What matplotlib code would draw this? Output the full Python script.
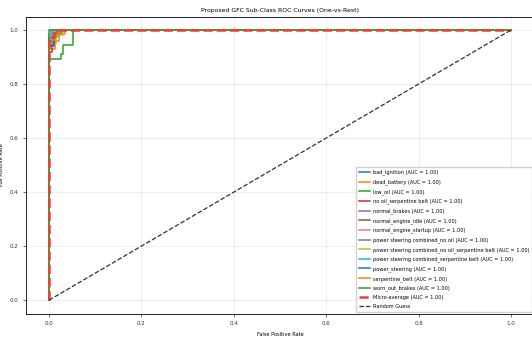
import matplotlib
matplotlib.use("Agg")
import matplotlib.pyplot as plt
import numpy as np

class_names = [
    "bad_ignition",
    "dead_battery",
    "low_oil",
    "no oil_serpentine belt",
    "normal_brakes",
    "normal_engine_idle",
    "normal_engine_startup",
    "power steering combined_no oil",
    "power steering combined_no oil_serpentine belt",
    "power steering combined_serpentine belt",
    "power_steering",
    "serpentine_belt",
    "worn_out_brakes",
]
class_auc = [1.00] * 13

# step-wise ROC points (fpr, tpr) per class
roc_fpr = [
    [0.0, 0.0, 0.008, 0.008, 0.016, 0.016, 1.0],
    [0.0, 0.0, 0.012, 0.012, 0.022, 0.022, 0.035, 0.035, 1.0],
    [0.0, 0.0, 0.026, 0.026, 0.031, 0.031, 0.051, 0.051, 1.0],
    [0.0, 0.0, 0.006, 0.006, 0.014, 0.014, 0.024, 0.024, 1.0],
    [0.0, 0.0, 0.004, 0.004, 1.0],
    [0.0, 0.0, 0.01, 0.01, 0.018, 0.018, 1.0],
    [0.0, 0.0, 0.005, 0.005, 0.012, 0.012, 1.0],
    [0.0, 0.0, 0.008, 0.008, 1.0],
    [0.0, 0.0, 0.015, 0.015, 0.03, 0.03, 1.0],
    [0.0, 0.0, 0.006, 0.006, 0.02, 0.02, 1.0],
    [0.0, 0.0, 0.01, 0.01, 0.025, 0.025, 1.0],
    [0.0, 0.0, 0.012, 0.012, 0.028, 0.028, 1.0],
    [0.0, 0.0, 1.0],
]
roc_tpr = [
    [0.0, 0.95, 0.95, 0.97, 0.97, 1.0, 1.0],
    [0.0, 0.93, 0.93, 0.96, 0.96, 0.985, 0.985, 1.0, 1.0],
    [0.0, 0.894, 0.894, 0.913, 0.913, 0.943, 0.943, 1.0, 1.0],
    [0.0, 0.92, 0.92, 0.95, 0.95, 0.98, 0.98, 1.0, 1.0],
    [0.0, 0.98, 0.98, 1.0, 1.0],
    [0.0, 0.94, 0.94, 0.975, 0.975, 1.0, 1.0],
    [0.0, 0.96, 0.96, 0.985, 0.985, 1.0, 1.0],
    [0.0, 0.97, 0.97, 1.0, 1.0],
    [0.0, 0.95, 0.95, 0.98, 0.98, 1.0, 1.0],
    [0.0, 0.955, 0.955, 0.99, 0.99, 1.0, 1.0],
    [0.0, 0.945, 0.945, 0.99, 0.99, 1.0, 1.0],
    [0.0, 0.965, 0.965, 0.99, 0.99, 1.0, 1.0],
    [0.0, 1.0, 1.0],
]

micro_fpr = [0.0, 0.0, 0.004, 0.004, 0.01, 0.01, 0.02, 0.02, 1.0]
micro_tpr = [0.0, 0.96, 0.96, 0.975, 0.975, 0.99, 0.99, 1.0, 1.0]
micro_auc = 1.00

colors = plt.get_cmap("tab10").colors

fig = plt.figure(figsize=(5.32, 3.38), dpi=100)
ax = fig.add_axes([0.0487, 0.072, 0.955, 0.879])

for i, name in enumerate(class_names):
    ax.plot(roc_fpr[i], roc_tpr[i], color=colors[i % 10], lw=1.1,
            label=f"{name} (AUC = {class_auc[i]:.2f})")

ax.plot(micro_fpr, micro_tpr, color="#e8403a", ls="--", lw=1.8,
        label=f"Micro-average (AUC = {micro_auc:.2f})")
ax.plot([0, 1], [0, 1], color="#333333", ls="--", lw=0.9, label="Random Guess")

ax.set_xlim(-0.05, 1.05)
ax.set_ylim(-0.05, 1.05)
ax.set_xticks(np.arange(0, 1.01, 0.2))
ax.set_yticks(np.arange(0, 1.01, 0.2))
ax.tick_params(labelsize=4, length=2, width=0.5, colors="#333333")
ax.grid(True, alpha=0.3, lw=0.5)
for s in ax.spines.values():
    s.set_linewidth(0.6)

ax.set_xlabel("False Positive Rate", fontsize=3.6)
ax.set_ylabel("True Positive Rate", fontsize=3.6)
ax.set_title("Proposed GFC Sub-Class ROC Curves (One-vs-Rest)", fontsize=4.4, pad=3)

ax.legend(loc="lower right", fontsize=3.65, handlelength=2.2, handletextpad=0.6,
          labelspacing=0.78, borderpad=0.5, framealpha=0.9, borderaxespad=0.4)

fig.savefig("out.png", dpi=100)
